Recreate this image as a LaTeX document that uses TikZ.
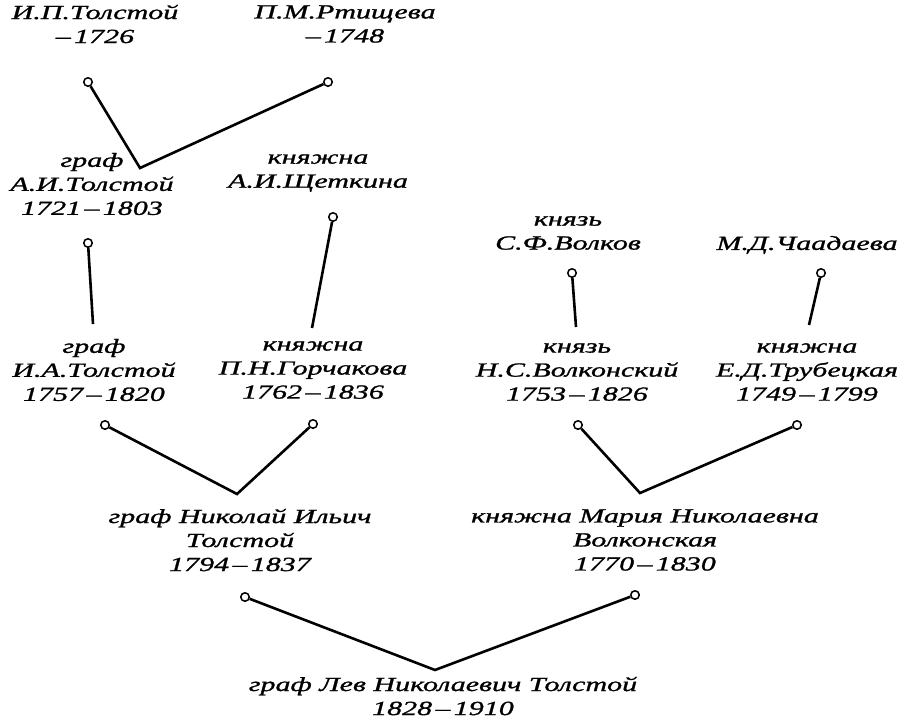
\documentclass[tikz,border=0pt]{standalone}
\usepackage{fontspec}
\setmainfont{Liberation Serif}[ItalicFeatures={FakeStretch=1.5,FakeBold=1.2}]
\usetikzlibrary{positioning}

\begin{document}
\begin{tikzpicture}[x=1pt,y=-1pt,
    person/.style={align=center,inner sep=0pt,font=\fontsize{20}{24}\selectfont\itshape},
    knot/.style={circle,draw,fill=white,line width=1.5pt,minimum size=8.5pt,inner sep=0pt},
    tie/.style={line width=2.6pt}]
    \useasboundingbox (0,0) rectangle (903,724);
    % generation 1
    \node[person] (ipt) at (95,24) {И.П.Толстой\\–\,1726};
    \node[person] (pmr) at (345,24) {П.М.Ртищева\\–\,1748};
    % generation 2
    \node[person] (ait) at (92,184) {граф\\А.И.Толстой\\1721\,–\,1803};
    \node[person] (ais) at (318,173) {княжна\\А.И.Щеткина};
    \node[person] (sfv) at (568,233) {князь\\С.Ф.Волков};
    \node[person] (mdc) at (807,245) {М.Д.Чаадаева};
    % generation 3
    \node[person] (iat) at (94,370) {граф\\И.А.Толстой\\1757\,–\,1820};
    \node[person] (png) at (313,370) {княжна\\П.Н.Горчакова\\1762\,–\,1836};
    \node[person] (nsv) at (577,372) {князь\\Н.С.Волконский\\1753\,–\,1826};
    \node[person] (edt) at (807,372) {княжна\\Е.Д.Трубецкая\\1749\,–\,1799};
    % generation 4
    \node[person] (nit) at (240,540) {граф Николай Ильич\\Толстой\\1794\,–\,1837};
    \node[person] (mnv) at (645,540) {княжна Мария Николаевна\\Волконская\\1770\,–\,1830};
    % generation 5
    \node[person] (lnt) at (443,696) {граф Лев Николаевич Толстой\\1828\,–\,1910};

    % knots under the names
    \node[knot] (k-ipt) at (88,82) {};
    \node[knot] (k-pmr) at (328,82) {};
    \node[knot] (k-ait) at (88,243) {};
    \node[knot] (k-ais) at (333,217) {};
    \node[knot] (k-sfv) at (572,273) {};
    \node[knot] (k-mdc) at (821,273) {};
    \node[knot] (k-iat) at (105,425) {};
    \node[knot] (k-png) at (313,424) {};
    \node[knot] (k-nsv) at (578,425) {};
    \node[knot] (k-edt) at (797,425) {};
    \node[knot] (k-nit) at (245,597) {};
    \node[knot] (k-mnv) at (635,595) {};

    % free ends above the children
    \coordinate (j-ait) at (140,168);
    \coordinate (j-iat) at (93,324);
    \coordinate (j-png) at (312,328);
    \coordinate (j-nit) at (237,494);
    \coordinate (j-nsv) at (576,327);
    \coordinate (j-edt) at (809,325);
    \coordinate (j-mnv) at (640,493);
    \coordinate (j-lnt) at (435,670);

    \draw [tie] (k-ipt) -- (j-ait) -- (k-pmr);
    \draw [tie] (k-ait) -- (j-iat);
    \draw [tie] (k-ais) -- (j-png);
    \draw [tie] (k-sfv) -- (j-nsv);
    \draw [tie] (k-mdc) -- (j-edt);
    \draw [tie] (k-iat) -- (j-nit) -- (k-png);
    \draw [tie] (k-nsv) -- (j-mnv) -- (k-edt);
    \draw [tie] (k-nit) -- (j-lnt) -- (k-mnv);
\end{tikzpicture}
\end{document}
